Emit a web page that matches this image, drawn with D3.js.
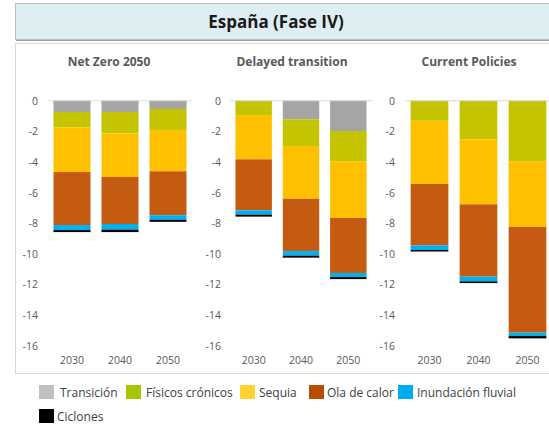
<!DOCTYPE html>
<html>
<head>
<meta charset="utf-8">
<script src="https://cdn.jsdelivr.net/npm/d3@7"></script>
<style>
  body { margin: 0; background: #fff; }
  svg { display: block; font-family: "Open Sans", sans-serif; }
</style>
</head>
<body>
<svg id="chart" width="549" height="424"></svg>
<script>
// data (losses, shown as negatives)
const scenarios = ['Net Zero 2050', 'Delayed transition', 'Current Policies']
const years = ['2030', '2040', '2050']
const series = ['Transición', 'Físicos crónicos', 'Sequia', 'Ola de calor', 'Inundación fluvial', 'Ciclones']
const yTicks = [0, -2, -4, -6, -8, -10, -12, -14, -16]

// one array per scenario, rows = years, cols = series
const netZero = [
  [0.74, 1.00, 2.92, 3.46, 0.33, 0.13],
  [0.74, 1.39, 2.85, 3.07, 0.37, 0.16],
  [0.54, 1.37, 2.70, 2.87, 0.30, 0.13]
]
const delayed = [
  [0.00, 0.94, 2.89, 3.33, 0.28, 0.13],
  [1.22, 1.74, 3.44, 3.42, 0.30, 0.13],
  [1.98, 1.98, 3.70, 3.59, 0.27, 0.13]
]
const currentPol = [
  [0.00, 1.31, 4.13, 4.01, 0.30, 0.10],
  [0.00, 2.53, 4.24, 4.72, 0.31, 0.11],
  [0.00, 3.98, 4.25, 6.92, 0.22, 0.15]
]
const scenarioValues = [netZero, delayed, currentPol]

const barColors = ['#A5A5A5', '#C4C400', '#FFC000', '#C55A11', '#00B0F0', '#000000']
const legendColors = ['#BFBFBF', '#A8C600', '#FFD230', '#B84C00', '#00AEEF', '#000000']

const svg = d3.select('#chart')

// title box
svg.append('rect')
  .attr('x', 16).attr('y', 5).attr('width', 540).attr('height', 36)
  .attr('fill', '#A0A0A0')
svg.append('rect')
  .attr('x', 15.5).attr('y', 3.5).attr('width', 540).attr('height', 36)
  .attr('fill', '#DFEEF3').attr('stroke', '#B4C2C6')
svg.append('text')
  .attr('x', 276).attr('y', 28)
  .attr('text-anchor', 'middle')
  .attr('font-size', '17px').attr('font-weight', 'bold')
  .attr('fill', '#1a1a1a')
  .text('España (Fase IV)')

// chart frame
svg.append('rect')
  .attr('x', 15.5).attr('y', 43.5).attr('width', 545).attr('height', 330)
  .attr('fill', 'none').attr('stroke', '#D9D9D9')

const y = d3.scaleLinear().domain([-16, 0]).range([345.7, 100.7])

// per panel: plot left/right, tick label anchor, title center
const panels = [
  { x0: 48, x1: 192, lab: 38, tc: 109 },
  { x0: 230, x1: 372, lab: 221, tc: 292 },
  { x0: 405, x1: 552, lab: 395, tc: 469 }
]

panels.forEach((p, pi) => {
  const g = svg.append('g')
  const x = d3.scaleBand().domain(years).range([p.x0, p.x1])
    .paddingInner(0.23).paddingOuter(0.115)

  g.append('text')
    .attr('x', p.tc).attr('y', 66)
    .attr('text-anchor', 'middle')
    .attr('font-size', '12px').attr('font-weight', 'bold')
    .attr('fill', '#595959')
    .text(scenarios[pi])

  g.selectAll('.ytick').data(yTicks).enter().append('text')
    .attr('x', p.lab).attr('y', d => y(d) + 4)
    .attr('text-anchor', 'end')
    .attr('font-size', '10.5px').attr('fill', '#595959')
    .text(d => d === 0 ? '0' : '-' + Math.abs(d))

  const stacked = d3.stack().keys(d3.range(series.length))(scenarioValues[pi])

  g.selectAll('.layer').data(stacked).enter().append('g')
    .attr('fill', (d, i) => barColors[i])
    .selectAll('rect').data(d => d).enter().append('rect')
    .attr('x', (d, i) => x(years[i]))
    .attr('width', x.bandwidth())
    .attr('y', d => y(-d[0]))
    .attr('height', d => y(-d[1]) - y(-d[0]))

  g.append('line')
    .attr('x1', p.x0).attr('x2', p.x1)
    .attr('y1', y(0)).attr('y2', y(0))
    .attr('stroke', '#D9D9D9')

  g.selectAll('.xlab').data(years).enter().append('text')
    .attr('x', d => x(d) + x.bandwidth() / 2).attr('y', 364)
    .attr('text-anchor', 'middle')
    .attr('font-size', '10.5px').attr('fill', '#595959')
    .text(d => d)
})

// legend
const legendPos = [
  { sx: 39, tx: 60, y: 392 },
  { sx: 126, tx: 146, y: 392 },
  { sx: 240, tx: 259, y: 392 },
  { sx: 309, tx: 327, y: 392 },
  { sx: 398, tx: 417, y: 392 },
  { sx: 39, tx: 57, y: 416 }
]
const legend = svg.append('g')
series.forEach((s, i) => {
  const lp = legendPos[i]
  legend.append('rect')
    .attr('x', lp.sx).attr('y', lp.y - 7).attr('width', 15).attr('height', 14)
    .attr('fill', legendColors[i])
  legend.append('text')
    .attr('x', lp.tx).attr('y', lp.y + 4.5)
    .attr('font-size', '12px').attr('fill', '#404040')
    .text(s)
})
</script>
</body>
</html>
